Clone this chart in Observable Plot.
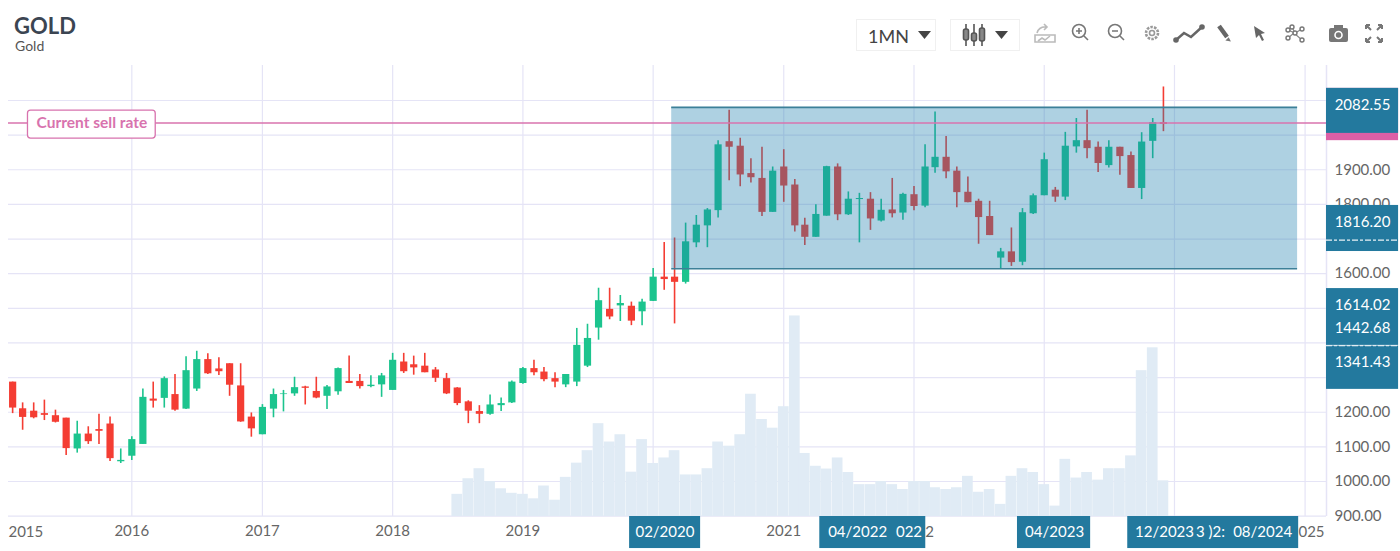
<!DOCTYPE html>
<html>
<head>
<meta charset="utf-8">
<script src="https://cdn.jsdelivr.net/npm/d3@7"></script>
<script src="https://cdn.jsdelivr.net/npm/@observablehq/plot@0.6"></script>
<style>
html,body{margin:0;padding:0;background:#fff;font-family:Lato,sans-serif;overflow:hidden}
#head{position:relative;height:65px;width:1400px}
#sym{position:absolute;left:14px;top:12px;font-size:22px;font-weight:700;color:#3b4552;line-height:28px}
#name{position:absolute;left:15px;top:38px;font-size:14px;color:#555;line-height:16px}
.dd{position:absolute;top:19px;height:32px;border:1px solid #f0f0f0;box-sizing:border-box}
#per{position:absolute;left:868px;top:26px;font-size:18px;color:#444;line-height:20px}
#tools{position:absolute;left:0;top:0}
svg{display:block}
</style>
</head>
<body>
<div id="head">
  <div id="sym">GOLD</div>
  <div id="name">Gold</div>
  <div class="dd" style="left:856px;width:80px"></div>
  <div class="dd" style="left:950px;width:70px"></div>
  <div id="per">1MN</div>
  <svg id="tools" width="1400" height="65" fill="none" stroke="#777" stroke-width="1.6">
    <path d="M918 31h13l-6.500 8z" fill="#444" stroke="none"/>
    <path d="M995 31h13l-6.500 8z" fill="#444" stroke="none"/>
    <g stroke="#555"><path d="M966 24v22M974 24v22M982 24v22"/></g>
    <g fill="#888" stroke="#555"><rect x="963.500" y="29" width="5" height="11" rx="2"/><rect x="971.500" y="33" width="5" height="8" rx="2"/><rect x="979.500" y="28" width="5" height="13" rx="2"/></g>
    <g stroke="#bbb"><path d="M1035 42v-7h20v7z"/><path d="M1038 41l4-3 3 2 5-4"/><path d="M1037 33q2-7 10-6m-3-3 3 3-3 3"/></g>
    <circle cx="1079" cy="31" r="6.500"/><path d="M1084 36l4 4M1076 31h6M1079 28v6"/>
    <circle cx="1115" cy="31" r="6.500"/><path d="M1120 36l4 4M1112 31h6"/>
    <circle cx="1152" cy="33" r="6" stroke="#999" stroke-width="2.600" stroke-dasharray="2.500 1.200"/><circle cx="1152" cy="33" r="2.500" stroke="#999"/>
    <path d="M1176 40l8-7 7 4 11-10" stroke="#666" stroke-width="2.500"/><g fill="#666" stroke="none"><circle cx="1176" cy="40" r="2.800"/><circle cx="1202" cy="27" r="2.800"/></g>
    <path d="M1219 26l8 11" stroke="#666" stroke-width="4.500"/><path d="M1228.500 38.500l1 2-2.500-.5z" fill="#666"/>
    <path d="M1254 26l11 7-4 1 3 6-2 1-3-6-3 3z" fill="#666" stroke="none"/>
    <g stroke="#888" stroke-width="1.200"><path d="M1288 30l7 3 7-4M1288 38l6-5 8 7M1292 27l3 6"/></g>
    <g fill="#fff" stroke="#777" stroke-width="1.400"><circle cx="1288" cy="30" r="2"/><circle cx="1295" cy="33" r="2"/><circle cx="1302" cy="29" r="2"/><circle cx="1288" cy="38" r="2"/><circle cx="1302" cy="40" r="2"/><circle cx="1292" cy="27" r="2"/></g>
    <rect x="1329" y="28" width="19" height="14" rx="2" fill="#777" stroke="none"/><circle cx="1338.500" cy="35" r="3.500" fill="#777" stroke="#fff"/><rect x="1334" y="25" width="9" height="4" fill="#777" stroke="none"/>
    <path d="M1366 25l5 5M1366 25h4M1366 25v4M1382 25l-5 5M1382 25h-4M1382 25v4M1366 42l5-5M1366 42h4M1366 42v-4M1382 42l-5-5M1382 42h-4M1382 42v-4" stroke="#777" stroke-width="2"/>
  </svg>
</div>
<div id="chart"></div>
<script>
const firstCandle = "2015-02-01";
const opens = [
  1287,1210,1203,1196,1190,1183,1094,1137,1150,1166,1057,
  1073,1107,1238,1240,1251,1209,1267,1352,1325,1340,1276,1186,
  1135,1209,1251,1253,1273,1260,1246,1259,1289,1289,1274,1279,
  1263,1345,1337,1333,1322,1297,1270,1230,1202,1194,1219,1227,
  1283,1326,1316,1297,1279,1287,1333,1443,1497,1507,1506,1490,
  1520,1590,1590,1575,1689,1738,1782,1981,1968,1889,1875,1777,
  1908,1856,1740,1705,1766,1908,1770,1814,1815,1752,1784,1775,
  1828,1795,1906,1936,1896,1835,1809,1765,1645,1663,1633,1773,
  1825,1841,1821,1966,1984,1965,1912,1965,1941,1846,1982,2036];
const closes = [
  1212,1185,1184,1191,1171,1095,1137,1115,1145,1066,1061,
  1121,1243,1232,1297,1206,1320,1352,1311,1317,1278,1172,1152,
  1214,1251,1253,1271,1269,1241,1273,1326,1283,1274,1278,1305,
  1350,1317,1328,1314,1298,1253,1225,1203,1194,1221,1225,1287,
  1326,1314,1294,1287,1309,1393,1413,1522,1475,1514,1463,1518,
  1590,1583,1575,1692,1740,1784,1972,1965,1885,1877,1777,1896,
  1853,1738,1705,1771,1909,1770,1815,1817,1758,1783,1773,1829,
  1794,1908,1936,1894,1834,1805,1762,1710,1663,1632,1776,1825,
  1929,1821,1968,1984,1961,1918,1965,1938,1846,1980,2036,2031];
const highs = [
  1287,1227,1227,1235,1206,1183,1174,1158,1194,1186,1094,
  1129,1267,1287,1302,1309,1360,1376,1369,1357,1340,1340,1198,
  1222,1267,1263,1301,1275,1301,1277,1328,1362,1309,1305,1312,
  1370,1370,1362,1370,1329,1312,1271,1233,1219,1250,1241,1290,
  1329,1350,1329,1314,1309,1442,1454,1558,1558,1537,1518,1526,
  1615,1690,1703,1746,1768,1788,1984,2072,1991,1932,1965,1908,
  1958,1872,1760,1799,1910,1917,1836,1832,1834,1815,1875,1832,
  1852,1972,2067,1996,1908,1879,1815,1809,1673,1732,1788,1830,
  1948,1849,2008,2048,2072,1980,1984,1965,1951,2007,2048,2139];
const lows = [
  1196,1148,1181,1176,1169,1075,1082,1107,1107,1058,1052,
  1061,1107,1212,1212,1203,1208,1260,1309,1306,1246,1171,1128,
  1135,1184,1201,1246,1221,1239,1208,1249,1283,1267,1271,1243,
  1263,1312,1307,1314,1286,1251,1219,1167,1167,1191,1202,1225,
  1281,1305,1288,1271,1271,1274,1329,1408,1467,1462,1450,1450,
  1520,1552,1455,1570,1675,1675,1761,1868,1851,1862,1765,1777,
  1806,1720,1681,1705,1766,1753,1768,1689,1725,1749,1761,1754,
  1782,1790,1890,1874,1790,1805,1685,1710,1613,1621,1623,1771,
  1825,1806,1811,1948,1932,1892,1905,1884,1846,1814,1932,2010];

// Volume bars have no axis of their own: heights are read against the price axis.
const firstVolume = "2018-07-01";
const volumeLevels = [
  963,1008,1037,1000,979,966,
  963,950,987,946,1012,1053,1089,1167,1114,1135,1027,1121,
  1052,1068,1089,1019,1019,1037,1114,1102,1135,1252,1179,1154,
  1216,1478,1081,1044,1036,1068,1026,991,991,1000,991,977,
  1000,1000,982,977,982,1015,969,977,934,1015,1037,1026,
  991,929,1064,1010,1026,1004,1037,1037,1074,1320,1386,1002];

const sellRate = 2035;
const channelTop = 2080, channelBottom = 1614.02;
const channelStart = "2020-02-22", channelEnd = "2024-12-11";

const gutterStart = "2025-03-02", gutterEnd = "2025-09-20", gutterMid = "2025-06-11";
const priceBoxes = [[2135,2005],[1797,1664],[1557,1393],[1391,1266]];
const priceBoxTop = 2135, pinkBottom = 1984;
const priceLabels = ["2082.55","1816.20","1614.02","1442.68","1341.43"];
const priceLabelLevels = [2085.5,1748,1508,1442,1344];
const visiblePriceTicks = [900,1000,1100,1200,1600,1800,1900,2000];
const dashedLevels = [1697,1392];

const gridYears = ["2016","2017","2018","2019","2020","2021","2022","2023","2024","2025"];
const visibleYears = ["2016","2017","2018","2019","2021"];
const clippedYearLabels = ["2015","2","025"];
const clippedYearAt = ["2015-03-10","2022-02-14","2025-01-19"];

const dateBoxes = [
  ["2019-10-27","2020-05-13"],["2021-04-12","2022-02-03"],
  ["2022-10-18","2023-05-11"],["2023-08-23","2024-12-14"]];
const dateLabels = ["02/2020","04/2022","022","04/2023","12/2023","3 )2:","08/2024"];
const dateLabelAt = ["2020-02-03","2021-07-27","2021-12-18","2023-01-30","2023-12-04","2024-04-11","2024-09-04"];

const dt = s => new Date(s + "T00:00:00Z");
const yr = y => dt(y + "-01-01");
const candles = opens.map((o, i) => ({
  date: d3.utcMonth.offset(dt(firstCandle), i),
  open: o, close: closes[i], high: highs[i], low: lows[i]
}));
const volumes = volumeLevels.map((v, i) => {
  const d = d3.utcMonth.offset(dt(firstVolume), i);
  return {x1: new Date(+d - 15 * 864e5), x2: new Date(+d + 15 * 864e5), v};
});

const GRID = "#e5e4f6", BLUE = "#23799e", PINK = "#d873ae", INK = "#666";
const GREEN = "#1cc48e", RED = "#f43d33";
const yBase = 899, labelBase = 806.5, yearLabelLevel = 853;
const xDomain = [new Date("2015-01-20T10:00:00Z"), dt(gutterStart)];
const candleColor = d => d.close >= d.open ? GREEN : RED;

const plot = Plot.plot({
  width: 1400, height: 486,
  marginLeft: 8, marginRight: 74, marginTop: 0, marginBottom: 35,
  style: {fontFamily: "Lato, sans-serif", fontSize: "15px", background: "#fff", overflow: "visible"},
  x: {type: "utc", domain: xDomain, label: null},
  y: {domain: [yBase, 2201], label: null},
  marks: [
    Plot.gridX(gridYears.map(yr), {stroke: GRID, strokeOpacity: 1, strokeWidth: 1.2}),
    Plot.gridY(d3.range(900, 2101, 100), {stroke: GRID, strokeOpacity: 1, strokeWidth: 1.2}),
    Plot.ruleX([xDomain[1]], {stroke: GRID, strokeWidth: 1.5}),
    Plot.axisY(visiblePriceTicks, {anchor: "right", tickSize: 0, tickPadding: 8, tickFormat: d3.format(".2f"), fontSize: 15, color: INK, label: null}),
    Plot.axisX(visibleYears.map(yr), {tickSize: 0, tickPadding: 9, tickFormat: d3.utcFormat("%Y"), fontSize: 15, color: INK, label: null}),
    Plot.text(clippedYearLabels, {x: (d, i) => dt(clippedYearAt[i]), y: () => yearLabelLevel, text: d => d, fill: INK, fontSize: 15}),
    Plot.rect(volumes, {x1: "x1", x2: "x2", y1: () => yBase, y2: "v", fill: "#e0ebf5"}),
    Plot.ruleX(candles, {x: "date", y1: "low", y2: "high", stroke: candleColor, strokeWidth: 1.6}),
    Plot.ruleX(candles, {x: "date", y1: "open", y2: "close", stroke: candleColor, strokeWidth: 7.2}),
    Plot.rect([0], {x1: () => dt(channelStart), x2: () => dt(channelEnd), y1: () => channelBottom, y2: () => channelTop, fill: "#1f7fb0", fillOpacity: 0.36}),
    Plot.ruleY([channelTop, channelBottom], {x1: () => dt(channelStart), x2: () => dt(channelEnd), stroke: "#3d8098", strokeWidth: 1.6}),
    Plot.ruleY([sellRate], {stroke: PINK, strokeWidth: 1.5}),
    Plot.rect([0], {x1: () => dt("2015-03-16"), x2: () => dt("2016-03-08"), y1: () => 1990, y2: () => 2071, fill: "#fff", stroke: PINK, strokeWidth: 1.3, rx: 3}),
    Plot.text(["Current sell rate"], {x: () => dt("2015-09-11"), y: () => sellRate, text: d => d, fill: PINK, fontSize: 15.5, fontWeight: 700}),
    Plot.rect([0], {x1: () => dt(gutterStart), x2: () => dt(gutterEnd), y1: () => pinkBottom, y2: () => priceBoxTop, fill: "#dd5fa6"}),
    Plot.rect(priceBoxes, {x1: () => dt(gutterStart), x2: () => dt(gutterEnd), y1: d => d[1], y2: d => d[0], fill: BLUE}),
    Plot.ruleY(dashedLevels, {x1: () => dt(gutterStart), x2: () => dt(gutterEnd), stroke: "#fff", strokeWidth: 1.2, strokeDasharray: "6 2 3 2", strokeOpacity: 0.9}),
    Plot.text(priceLabels, {x: () => dt(gutterMid), y: (d, i) => priceLabelLevels[i], text: d => d, fill: "#fff", fontSize: 15}),
    Plot.rect(dateBoxes, {x1: d => dt(d[0]), x2: d => dt(d[1]), y1: () => labelBase, y2: () => yBase, fill: BLUE}),
    Plot.text(dateLabels, {x: (d, i) => dt(dateLabelAt[i]), y: () => yearLabelLevel, text: d => d, fill: "#fff", fontSize: 15})
  ]
});
document.getElementById("chart").appendChild(plot);
</script>
</body>
</html>
